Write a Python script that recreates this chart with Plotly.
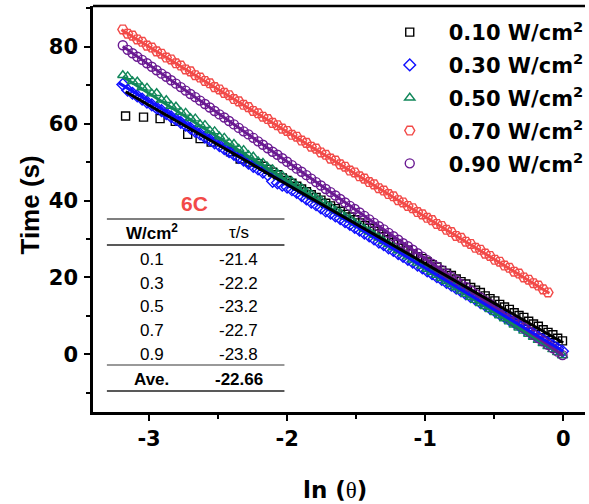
import plotly.graph_objects as go

# ---------------- data ----------------
series_names = ["0.10 W/cm<sup>2</sup>", "0.30 W/cm<sup>2</sup>", "0.50 W/cm<sup>2</sup>",
                "0.70 W/cm<sup>2</sup>", "0.90 W/cm<sup>2</sup>"]

# ln(theta) sampling positions read along the dense bands
x_band = [-3.190, -3.155, -3.120, -3.085, -3.050, -3.015, -2.980, -2.945, -2.910, -2.875,
          -2.840, -2.805, -2.770, -2.735, -2.700, -2.665, -2.630, -2.595, -2.560, -2.525,
          -2.490, -2.455, -2.420, -2.385, -2.350, -2.315, -2.280, -2.245, -2.210, -2.175,
          -2.140, -2.105, -2.070, -2.035, -2.000, -1.965, -1.930, -1.895, -1.860, -1.825,
          -1.790, -1.755, -1.720, -1.685, -1.650, -1.615, -1.580, -1.545, -1.510, -1.475,
          -1.440, -1.405, -1.370, -1.335, -1.300, -1.265, -1.230, -1.195, -1.160, -1.125,
          -1.090, -1.055, -1.020, -0.985, -0.950, -0.915, -0.880, -0.845, -0.810, -0.775,
          -0.740, -0.705, -0.670, -0.635, -0.600, -0.565, -0.530, -0.495, -0.460, -0.425,
          -0.390, -0.355, -0.320, -0.285, -0.250, -0.215, -0.180, -0.145, -0.110, -0.075,
          -0.040, -0.005]

# 0.10 W/cm2 (black squares)
x_010 = [-3.17, -3.04, -2.92, -2.81, -2.72, -2.63, -2.55, -2.41, -2.34, -2.27,
         -2.210, -2.175, -2.140, -2.105, -2.070, -2.035, -2.000, -1.965, -1.930, -1.895,
         -1.860, -1.825, -1.790, -1.755, -1.720, -1.685, -1.650, -1.615, -1.580, -1.545,
         -1.510, -1.475, -1.440, -1.405, -1.370, -1.335, -1.300, -1.265, -1.230, -1.195,
         -1.160, -1.125, -1.090, -1.055, -1.020, -0.985, -0.950, -0.915, -0.880, -0.845,
         -0.810, -0.775, -0.740, -0.705, -0.670, -0.635, -0.600, -0.565, -0.530, -0.495,
         -0.460, -0.425, -0.390, -0.355, -0.320, -0.285, -0.250, -0.215, -0.180, -0.145,
         -0.110, -0.075, -0.040, -0.005]
y_010 = [62.0, 61.7, 61.3, 60.6, 57.2, 56.1, 55.2, 52.7, 50.8, 50.0,
         49.6, 48.9, 48.1, 47.4, 46.7, 45.9, 45.2, 44.5, 43.7, 43.0,
         42.3, 41.5, 40.8, 40.1, 39.3, 38.6, 37.9, 37.2, 36.4, 35.7,
         35.0, 34.2, 33.5, 32.8, 32.0, 31.3, 30.6, 29.8, 29.1, 28.6,
         27.6, 27.1, 26.2, 25.4, 24.9, 24.0, 23.3, 22.7, 21.8, 21.1,
         20.5, 19.6, 18.9, 18.3, 17.4, 16.7, 16.1, 15.2, 14.5, 13.9,
         13.0, 12.3, 11.7, 10.8, 10.1, 9.6, 8.6, 7.9, 7.3, 6.4,
         5.7, 5.1, 4.2, 3.5]

# 0.30 W/cm2 (blue diamonds)
y_030 = [70.2, 68.7, 67.9, 67.2, 66.4, 65.6, 64.9, 64.1, 63.4, 62.6,
         61.8, 61.1, 60.3, 59.6, 58.8, 58.0, 57.3, 56.5, 55.8, 55.0,
         54.3, 53.5, 52.7, 52.0, 51.2, 50.5, 49.7, 48.9, 48.2, 47.4,
         46.7, 45.0, 44.6, 44.0, 43.5, 42.8, 42.1, 41.3, 40.4, 39.6,
         38.9, 38.1, 37.3, 36.7, 36.0, 35.3, 34.5, 33.8, 33.0, 32.3,
         31.5, 30.8, 30.0, 29.2, 28.5, 27.7, 27.0, 26.2, 25.5, 24.7,
         24.0, 23.2, 22.5, 21.7, 21.0, 20.2, 19.5, 18.7, 18.0, 17.2,
         16.5, 15.7, 15.0, 14.3, 13.5, 12.8, 12.0, 11.3, 10.5, 9.8,
         9.0, 8.3, 7.5, 6.8, 6.0, 5.3, 4.5, 3.8, 3.0, 2.3,
         1.5, 0.8]

# 0.50 W/cm2 (green triangles)
y_050 = [72.6, 72.3, 71.0, 70.9, 69.4, 69.3, 67.8, 67.9, 66.2, 66.1,
         64.6, 64.4, 63.0, 62.8, 61.4, 61.3, 59.8, 59.6, 58.2, 58.0,
         56.6, 56.3, 55.0, 54.7, 53.4, 53.1, 51.8, 51.4, 50.2, 49.8,
         48.6, 48.1, 47.0, 46.5, 45.4, 44.9, 43.8, 43.2, 42.2, 41.6,
         40.6, 40.0, 39.0, 38.4, 37.4, 36.8, 35.8, 35.2, 34.2, 33.6,
         32.6, 31.9, 31.0, 30.3, 29.4, 28.6, 27.8, 27.0, 26.2, 25.4,
         24.6, 23.8, 23.0, 22.2, 21.4, 20.6, 19.8, 19.0, 18.2, 17.4,
         16.5, 15.7, 14.9, 14.1, 13.3, 12.5, 11.7, 10.9, 10.1, 9.3,
         8.5, 7.7, 6.9, 6.1, 5.3, 4.5, 3.7, 2.9, 2.1, 1.3,
         0.5, -0.3]

# 0.70 W/cm2 (red hexagons)
x_070 = x_band[:89]
y_070 = [84.5, 83.4, 82.9, 81.9, 81.3, 80.3, 79.8, 78.8, 78.2, 77.2,
         76.7, 75.7, 75.1, 74.1, 73.6, 72.6, 72.0, 71.1, 70.5, 69.5,
         68.9, 68.0, 67.4, 66.4, 65.8, 64.9, 64.3, 63.3, 62.7, 61.8,
         61.2, 60.2, 59.6, 58.7, 58.1, 57.1, 56.6, 55.6, 55.0, 54.0,
         53.5, 52.5, 51.9, 50.9, 50.4, 49.4, 48.8, 47.8, 47.3, 46.3,
         45.7, 44.8, 44.2, 43.2, 42.6, 41.7, 41.1, 40.1, 39.5, 38.6,
         38.0, 37.0, 36.4, 35.5, 34.9, 33.9, 33.4, 32.4, 31.8, 30.8,
         30.3, 29.3, 28.7, 27.7, 27.2, 26.2, 25.6, 24.6, 24.1, 23.1,
         22.5, 21.5, 21.0, 20.0, 19.4, 18.5, 17.9, 16.9, 16.1]

# 0.90 W/cm2 (purple circles)
y_090 = [80.4, 79.2, 78.3, 77.4, 76.6, 75.7, 74.8, 73.9, 73.0, 72.2,
         71.3, 70.4, 69.5, 68.6, 67.7, 66.9, 66.0, 65.1, 64.2, 63.3,
         62.4, 61.6, 60.7, 59.8, 58.9, 58.0, 57.2, 56.3, 55.4, 54.5,
         53.6, 52.7, 51.9, 51.0, 50.1, 49.2, 48.3, 47.5, 46.6, 45.7,
         44.8, 43.9, 43.0, 42.2, 41.3, 40.4, 39.5, 38.6, 37.8, 36.9,
         36.0, 35.1, 34.2, 33.3, 32.5, 31.6, 30.7, 29.8, 28.9, 28.1,
         27.2, 26.3, 25.4, 24.5, 23.6, 22.8, 21.9, 21.0, 20.1, 19.2,
         18.3, 17.5, 16.6, 15.7, 14.8, 13.9, 13.1, 12.2, 11.3, 10.4,
         9.5, 8.6, 7.8, 6.9, 6.0, 5.1, 4.2, 3.4, 2.5, 1.6,
         0.7, -0.2]

# linear fit lines (end points)
fit_x_010 = [-3.17, 0.0];  fit_y_010 = [68.3, 3.0]
fit_x_030 = [-3.22, 0.0];  fit_y_030 = [70.6, 0.8]
fit_x_050 = [-3.19, 0.0];  fit_y_050 = [72.2, -0.4]
fit_x_070 = [-3.20, -0.10]; fit_y_070 = [84.4, 15.9]
fit_x_090 = [-3.19, 0.0];  fit_y_090 = [80.1, -0.3]

# inset table
table_title = "6C"
table_head = ["W/cm<sup>2</sup>", "τ/s"]
table_power = ["0.1", "0.3", "0.5", "0.7", "0.9"]
table_tau = ["-21.4", "-22.2", "-23.2", "-22.7", "-23.8"]
table_avg = ["Ave.", "-22.66"]

x_tick_vals = [-3, -2, -1, 0]
x_tick_text = ["-3", "-2", "-1", "0"]
y_tick_vals = [0, 20, 40, 60, 80]
y_tick_text = ["0", "20", "40", "60", "80"]

# ---------------- styling ----------------
W, H = 589, 504
L, R, T, B = 93, 589, 6, 412
colors = ["#000000", "#1010FF", "#11875A", "#F24A48", "#6A1A92"]
symbols = ["square-open", "diamond-open", "triangle-up-open", "hexagon2-open", "circle-open"]
sizes = [8, 9, 9, 10, 9]


def px(xp):
    return (xp - L) / (R - L)


def py(yp):
    return (B - yp) / (B - T)


fig = go.Figure()

xs = [x_010, x_band, x_band, x_070, x_band]
ys = [y_010, y_030, y_050, y_070, y_090]
fxs = [fit_x_010, fit_x_030, fit_x_050, fit_x_070, fit_x_090]
fys = [fit_y_010, fit_y_030, fit_y_050, fit_y_070, fit_y_090]

for i in [0, 1, 2, 4, 3]:
    fig.add_trace(go.Scatter(
        x=xs[i], y=ys[i], mode="markers", name=series_names[i],
        legendrank=i + 1, legendgroup="g%d" % i,
        marker=dict(symbol=symbols[i], size=sizes[i], color=colors[i],
                    line=dict(width=1.4, color=colors[i])),
    ))
for i in [3, 2, 4, 1, 0]:
    fig.add_trace(go.Scatter(
        x=fxs[i], y=fys[i], mode="lines", showlegend=False, legendgroup="g%d" % i,
        line=dict(color=colors[i], width=3),
    ))

fig.update_layout(
    width=W, height=H,
    margin=dict(l=L, r=W - R, t=T, b=H - B, pad=0),
    paper_bgcolor="white", plot_bgcolor="white",
    showlegend=True,
    legend=dict(
        x=px(373), y=py(12), xanchor="left", yanchor="top",
        bgcolor="rgba(0,0,0,0)", borderwidth=0,
        font=dict(family="DejaVu Sans", size=21, color="black", weight="bold"),
        itemwidth=68, tracegroupgap=2.5,
        traceorder="grouped",
    ),
    xaxis=dict(
        range=[-3.406, 0.158], showgrid=False, zeroline=False,
        showline=True, linecolor="black", linewidth=2.5, mirror=False,
        tickmode="array", tickvals=x_tick_vals, ticktext=x_tick_text,
        ticks="outside", ticklen=6, tickwidth=2, tickcolor="black",
        minor=dict(dtick=0.5, tick0=0, ticks="outside", ticklen=4, tickwidth=2, tickcolor="black"),
        tickfont=dict(family="DejaVu Sans", size=21, color="black", weight="bold"),
        ticklabelstandoff=0,
    ),
    yaxis=dict(
        range=[-15.0, 90.6], showgrid=False, zeroline=False,
        showline=True, linecolor="black", linewidth=2.5, mirror=False,
        tickmode="array", tickvals=y_tick_vals, ticktext=y_tick_text,
        ticks="outside", ticklen=6, tickwidth=2, tickcolor="black",
        minor=dict(dtick=10, tick0=0, ticks="outside", ticklen=4, tickwidth=2, tickcolor="black"),
        tickfont=dict(family="DejaVu Sans", size=21, color="black", weight="bold"),
        ticklabelstandoff=2,
    ),
)

shapes = []
# top border of the frame
shapes.append(dict(type="line", xref="paper", yref="paper", x0=0, x1=1, y0=1, y1=1,
                   line=dict(color="black", width=2.5)))
# table rules
for yp, col in [(219, "#555555"), (245, "#222222"), (365, "#777777"), (391, "#222222")]:
    shapes.append(dict(type="line", xref="paper", yref="paper", x0=px(107), x1=px(286),
                       y0=py(yp), y1=py(yp), line=dict(color=col, width=1.3)))
fig.update_layout(shapes=shapes)

ann = []
# axis titles
ann.append(dict(text="<b>Time (s)</b>", x=px(29), y=py(205), xref="paper", yref="paper",
                showarrow=False, textangle=-90, xanchor="center", yanchor="middle",
                font=dict(family="Liberation Sans", size=26, color="black")))
ann.append(dict(text="<b>ln (</b><span style='font-family:Liberation Serif;font-weight:normal'>θ</span><b>)</b>",
                x=px(337), y=py(490), xref="paper", yref="paper",
                showarrow=False, xanchor="center", yanchor="middle",
                font=dict(family="DejaVu Sans", size=23, color="black")))
# table
tfont = dict(family="Liberation Sans", size=17, color="black")
ann.append(dict(text="<b>" + table_title + "</b>", x=px(195), y=py(203), xref="paper", yref="paper",
                showarrow=False, xanchor="center", yanchor="middle",
                font=dict(family="Liberation Sans", size=21, color="#F24A48")))
ann.append(dict(text="<b>" + table_head[0] + "</b>", x=px(152), y=py(232), xref="paper", yref="paper",
                showarrow=False, xanchor="center", yanchor="middle", font=tfont))
ann.append(dict(text=table_head[1], x=px(240), y=py(233), xref="paper", yref="paper",
                showarrow=False, xanchor="center", yanchor="middle", font=tfont))
row_y = [259, 283, 306, 330, 354]
for k in range(len(table_power)):
    ann.append(dict(text=table_power[k], x=px(152), y=py(row_y[k]), xref="paper", yref="paper",
                    showarrow=False, xanchor="center", yanchor="middle", font=tfont))
    ann.append(dict(text=table_tau[k], x=px(240), y=py(row_y[k]), xref="paper", yref="paper",
                    showarrow=False, xanchor="center", yanchor="middle", font=tfont))
ann.append(dict(text="<b>" + table_avg[0] + "</b>", x=px(152), y=py(379), xref="paper", yref="paper",
                showarrow=False, xanchor="center", yanchor="middle", font=tfont))
ann.append(dict(text="<b>" + table_avg[1] + "</b>", x=px(240), y=py(379), xref="paper", yref="paper",
                showarrow=False, xanchor="center", yanchor="middle", font=tfont))
fig.update_layout(annotations=ann)

fig.write_html("out.html")
